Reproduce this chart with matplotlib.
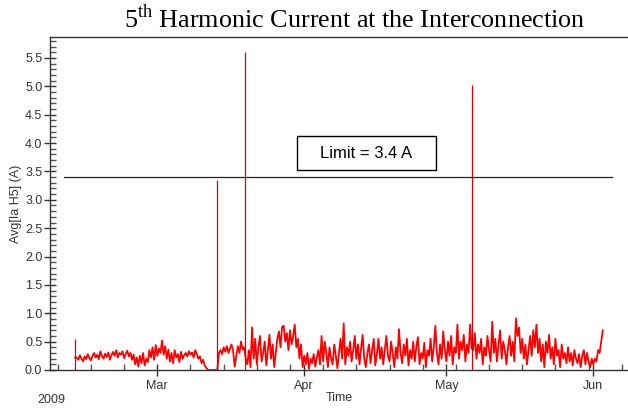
import pandas as pd
import matplotlib
matplotlib.use("Agg")
import matplotlib.pyplot as plt
import matplotlib.dates as mdates
from matplotlib.ticker import MultipleLocator, FormatStrFormatter
from matplotlib.patches import Rectangle

# 8-hourly averages of the 5th harmonic current (A), starting Feb 11 2009 16:00
start_time = "2009-02-11 16:00"
ia_h5 = [
    0.22, 0.22, 0.18, 0.26, 0.20, 0.15, 0.24, 0.19, 0.28, 0.21, 0.17, 0.25,
    0.30, 0.22, 0.27, 0.19, 0.33, 0.24, 0.20, 0.29, 0.23, 0.31, 0.18, 0.26,
    0.32, 0.25, 0.35, 0.22, 0.30, 0.27, 0.33, 0.21, 0.28, 0.34, 0.24, 0.30,
    0.18, 0.27, 0.10, 0.22, 0.06, 0.25, 0.12, 0.30, 0.08, 0.20, 0.14, 0.35,
    0.22, 0.40, 0.18, 0.44, 0.25, 0.38, 0.30, 0.52, 0.27, 0.42, 0.20, 0.36,
    0.15, 0.30, 0.12, 0.35, 0.22, 0.28, 0.14, 0.32, 0.20, 0.26, 0.30, 0.24,
    0.33, 0.27, 0.31, 0.22, 0.35, 0.28, 0.20, 0.24, 0.12, 0.18, 0.08, 0.04,
    0.00, 0.00, 0.00, 0.00, 0.00, 0.00, 0.00,
    0.30, 0.35, 0.28, 0.40, 0.32, 0.42, 0.30, 0.38, 0.45, 0.33, 0.06, 0.25,
    0.42, 0.30, 0.50, 0.36, 0.40,
    0.20, 0.10, 0.35, 0.05, 0.75, 0.20, 0.55, 0.10, 0.40, 0.60, 0.15, 0.30,
    0.50, 0.08, 0.35, 0.62, 0.20, 0.45, 0.05, 0.30, 0.55, 0.68, 0.40, 0.76,
    0.78, 0.50, 0.65, 0.35, 0.70, 0.45, 0.60, 0.80, 0.40, 0.55, 0.20, 0.45,
    0.05, 0.25, 0.10, 0.30, 0.02, 0.20, 0.12, 0.28, 0.06, 0.22, 0.35, 0.10,
    0.60, 0.15, 0.50, 0.30, 0.05, 0.40, 0.20, 0.10, 0.45, 0.25, 0.03, 0.30,
    0.55, 0.20, 0.82, 0.10, 0.40, 0.25, 0.50, 0.15, 0.35, 0.60, 0.20, 0.45,
    0.10, 0.38, 0.62, 0.20, 0.05, 0.30, 0.45, 0.12, 0.35, 0.55, 0.08, 0.28,
    0.55, 0.20, 0.40, 0.10, 0.35, 0.60, 0.25, 0.15, 0.50, 0.30, 0.05, 0.40,
    0.20, 0.72, 0.30, 0.12, 0.45, 0.25, 0.55, 0.08, 0.35, 0.20, 0.50, 0.15,
    0.42, 0.58, 0.10, 0.30, 0.20, 0.48, 0.05, 0.35, 0.25, 0.55, 0.15, 0.40,
    0.78, 0.30, 0.10, 0.45, 0.20, 0.68, 0.35, 0.15, 0.50, 0.25, 0.60, 0.10,
    0.40, 0.30, 0.80, 0.20, 0.50, 0.35, 0.62, 0.15, 0.45, 0.30, 0.80, 0.38,
    0.35, 0.65, 0.20, 0.45, 0.30, 0.55, 0.10, 0.40, 0.25, 0.60, 0.35, 0.15,
    0.85, 0.30, 0.55, 0.15, 0.45, 0.70, 0.20, 0.50, 0.35, 0.10, 0.40, 0.60,
    0.25, 0.50, 0.15, 0.91, 0.60, 0.75, 0.30, 0.55, 0.20, 0.45, 0.10, 0.35,
    0.60, 0.25, 0.70, 0.40, 0.80, 0.30, 0.55, 0.15, 0.45, 0.05, 0.50, 0.30,
    0.62, 0.20, 0.40, 0.10, 0.55, 0.25, 0.35, 0.05, 0.45, 0.20, 0.30, 0.12,
    0.40, 0.15, 0.30, 0.08, 0.35, 0.20, 0.12, 0.28, 0.05, 0.25, 0.35, 0.10,
    0.30, 0.15, 0.05, 0.20, 0.10, 0.20, 0.15, 0.35, 0.30, 0.50, 0.70,
]
# short single-reading spikes
spike_times = ["2009-02-11 16:00", "2009-03-13 16:00", "2009-03-19 12:00", "2009-05-06 12:00"]
spike_values = [0.55, 3.35, 5.60, 5.03]

limit_value = 3.4
limit_label = "Limit = 3.4 A"
y_ticks = [0.0, 0.5, 1.0, 1.5, 2.0, 2.5, 3.0, 3.5, 4.0, 4.5, 5.0, 5.5]

times = pd.date_range(start_time, periods=len(ia_h5), freq="8h")

plt.rcParams["font.family"] = ["Liberation Sans", "DejaVu Sans"]
plt.rcParams["mathtext.fontset"] = "custom"
plt.rcParams["mathtext.rm"] = "Liberation Serif"

fig = plt.figure(figsize=(6.28, 4.09), dpi=100)
ax = fig.add_axes([50 / 628, 39 / 409, 578 / 628, 333 / 409])

ax.plot(times, ia_h5, color="#ff0000", linewidth=1.3)
ax.vlines(pd.to_datetime(spike_times), 0, spike_values, color="#e00000", linewidth=0.9)

ax.set_xlim(pd.Timestamp("2009-02-06 08:40"), pd.Timestamp("2009-06-08 07:40"))
ax.set_ylim(0, 5.87)

# limit line and its label box
ax.axhline(limit_value, xmin=14 / 578, xmax=562 / 578, color="#222222", linewidth=0.9)
ax.add_patch(Rectangle((247 / 578, 200 / 333), 139 / 578, 34 / 333,
                       transform=ax.transAxes, fill=False, edgecolor="black", linewidth=1.0))
ax.text(316 / 578, 217 / 333, limit_label, transform=ax.transAxes,
        ha="center", va="center", fontsize=12, color="black")

# axes styling
ax.spines["right"].set_visible(False)
for side in ["left", "bottom", "top"]:
    ax.spines[side].set_color("#333333")
    ax.spines[side].set_linewidth(1.0)

ax.set_yticks(y_ticks)
ax.yaxis.set_major_formatter(FormatStrFormatter("%.1f"))
ax.yaxis.set_minor_locator(MultipleLocator(0.1))
ax.xaxis.set_major_locator(mdates.MonthLocator())
ax.xaxis.set_major_formatter(mdates.DateFormatter("%b"))
ax.xaxis.set_minor_locator(mdates.WeekdayLocator(byweekday=mdates.SU))

ax.tick_params(axis="both", which="major", direction="inout", length=9,
               width=1.0, color="#333333", labelsize=9, labelcolor="#333333")
ax.tick_params(axis="y", which="major", pad=1)
ax.tick_params(axis="x", which="major", pad=3)
ax.tick_params(axis="both", which="minor", direction="in", length=4,
               width=1.0, color="#555555")

ax.set_xlabel("Time", fontsize=9, color="#333333", labelpad=0)
ax.set_ylabel("Avg[Ia H5] (A)", fontsize=9, color="#333333", labelpad=2)
fig.text(37 / 628, 1 - 400 / 409, "2009", fontsize=9, color="#333333",
         ha="left", va="center")

fig.text(355 / 628, 1 - 19 / 409,
         r"5$^{\mathrm{th}}$ Harmonic Current at the Interconnection",
         fontsize=18.8, family="Liberation Serif", ha="center", va="center",
         color="black")

fig.savefig("out.png", dpi=100)
